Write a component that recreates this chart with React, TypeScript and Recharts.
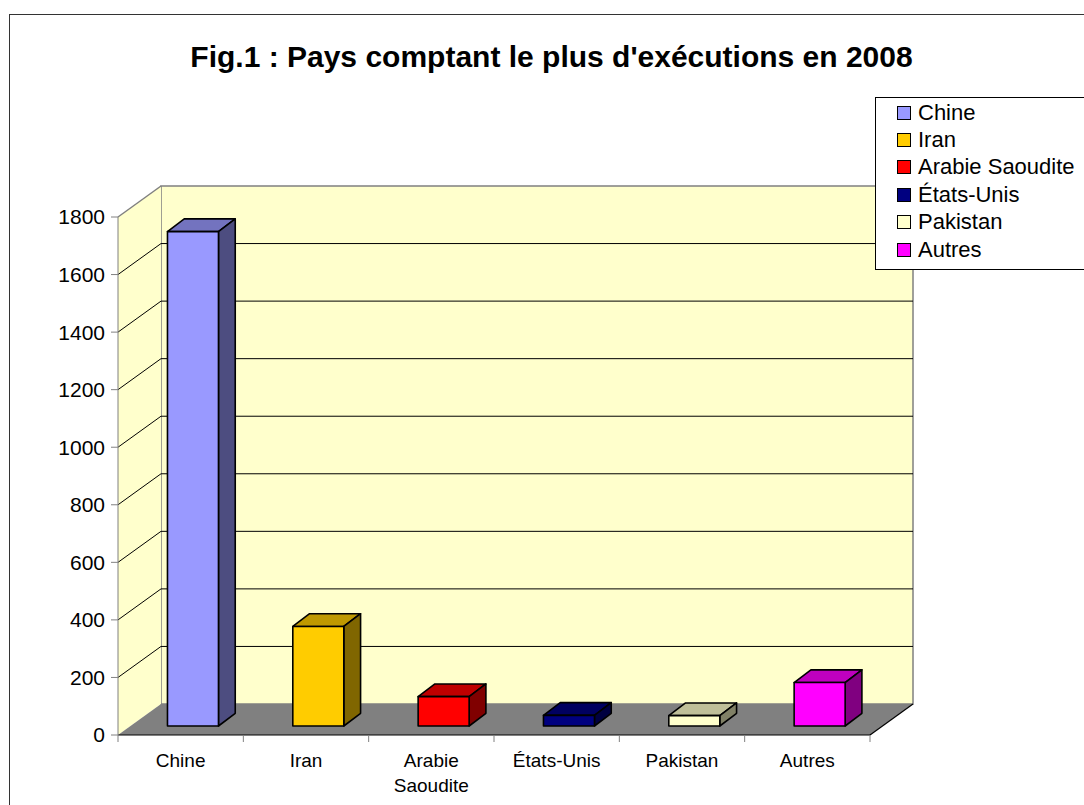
import React from 'react';
import { BarChart, Bar, XAxis, YAxis, CartesianGrid, ReferenceArea, Legend } from 'recharts';

const TITRE = "Fig.1 : Pays comptant le plus d'exécutions en 2008";
const PAYS = ['Chine', 'Iran', 'Arabie Saoudite', 'États-Unis', 'Pakistan', 'Autres'];
const EXECUTIONS = [1718, 346, 102, 37, 36, 151];
const COULEURS = ['#9999ff', '#ffcc00', '#ff0000', '#000080', '#ffffcc', '#ff00ff'];
const Y_TICKS = [0, 200, 400, 600, 800, 1000, 1200, 1400, 1600, 1800];

const FONT = '"Liberation Sans", Arial, sans-serif';

// decalage de la profondeur (effet 3D facon tableur)
const DX = 43;
const DY = 31;

const data = PAYS.map((pays, i) => ({ pays, executions: EXECUTIONS[i] }));

// assombrit une couleur hex (faces dessus / cote)
const shade = (hex: string, k: number) => {
  const n = parseInt(hex.slice(1), 16);
  const r = Math.round(((n >> 16) & 255) * k);
  const g = Math.round(((n >> 8) & 255) * k);
  const b = Math.round((n & 255) * k);
  return `rgb(${r},${g},${b})`;
};

const Murs = (props: any) => {
  const { x, y, width: w, height: h } = props;
  return (
    <g>
      <rect x={x + DX} y={y - DY} width={w} height={h} fill="#ffffcc" stroke="#808080" strokeWidth={1.5} />
      <polygon points={`${x},${y} ${x + DX},${y - DY} ${x + DX},${y + h - DY} ${x},${y + h}`} fill="#ffffcc" />
      <line x1={x} y1={y} x2={x + DX} y2={y - DY} stroke="#808080" strokeWidth={1.5} />
      <polygon
        points={`${x},${y + h} ${x + DX},${y + h - DY} ${x + w + DX},${y + h - DY} ${x + w},${y + h}`}
        fill="#808080"
      />
      <line x1={x + w + DX} y1={y + h - DY} x2={x + w} y2={y + h} stroke="#000" strokeWidth={1.2} />
    </g>
  );
};

const LigneGrille = (props: any) => {
  const { x1, y1, x2 } = props;
  return (
    <path
      key={`g-${y1}`}
      d={`M${x1},${y1}L${x1 + DX},${y1 - DY}L${x2 + DX},${y1 - DY}`}
      fill="none"
      stroke="#000"
      strokeWidth={1}
    />
  );
};

const Barre3D = (props: any) => {
  const { x, y, width, height, index } = props;
  if (height == null || width == null) return null;
  const c = COULEURS[index];
  const fx = x + DX * 0.29;
  const fy = y - DY * 0.29;
  const bx = DX * 0.39;
  const by = DY * 0.41;
  return (
    <g stroke="#000" strokeWidth={1.6} strokeLinejoin="round">
      <polygon
        points={`${fx},${fy} ${fx + bx},${fy - by} ${fx + width + bx},${fy - by} ${fx + width},${fy}`}
        fill={shade(c, 0.75)}
      />
      <polygon
        points={`${fx + width},${fy} ${fx + width + bx},${fy - by} ${fx + width + bx},${fy + height - by} ${fx + width},${fy + height}`}
        fill={shade(c, 0.5)}
      />
      <rect x={fx} y={fy} width={width} height={height} fill={c} />
    </g>
  );
};

const TickPays = (props: any) => {
  const { x, y, payload, index } = props;
  const half = payload && payload.offset ? payload.offset : 752 / PAYS.length / 2;
  const lignes = String(payload.value).split(' ');
  return (
    <g>
      <line x1={x - half} y1={y} x2={x - half} y2={y + 7} stroke="#808080" />
      {index === PAYS.length - 1 && <line x1={x + half} y1={y} x2={x + half} y2={y + 7} stroke="#808080" />}
      <text x={x} y={y + 32} textAnchor="middle" fontSize={19} fill="#000" fontFamily={FONT}>
        {lignes.map((l, i) => (
          <tspan key={l} x={x} dy={i === 0 ? 0 : 25}>
            {l}
          </tspan>
        ))}
      </text>
    </g>
  );
};

const Legende = () => (
  <div
    style={{
      width: 220,
      height: 173,
      border: '1px solid #000',
      background: '#fff',
      boxSizing: 'border-box',
      paddingTop: 1,
      fontFamily: FONT,
      fontSize: 22,
      color: '#000',
    }}
  >
    {PAYS.map((p, i) => (
      <div key={p} style={{ height: 27.4, display: 'flex', alignItems: 'center', paddingLeft: 21, whiteSpace: 'nowrap' }}>
        <span
          style={{
            display: 'inline-block',
            width: 12,
            height: 12,
            border: '1px solid #000',
            background: COULEURS[i],
            marginRight: 7,
          }}
        />
        {p}
      </div>
    ))}
  </div>
);

export default function App() {
  return (
    <div style={{ position: 'fixed', left: 0, top: 0, width: 1084, height: 805, overflow: 'hidden', background: '#fff' }}>
      <div style={{ position: 'absolute', left: 9, top: 14, width: 1200, height: 900, border: '1px solid #333' }} />
      <div
        style={{
          position: 'absolute',
          left: 0,
          width: 1103,
          top: 42,
          textAlign: 'center',
          fontFamily: FONT,
          fontWeight: 'bold',
          fontSize: 30,
          lineHeight: '30px',
          color: '#000',
          whiteSpace: 'nowrap',
        }}
      >
        {TITRE}
      </div>
      <div style={{ position: 'absolute', left: 0, top: 0 }}>
        <BarChart width={1084} height={805} data={data} margin={{ top: 217, right: 214, left: 58, bottom: 40 }}>
          <ReferenceArea y1={0} y2={1800} ifOverflow="visible" shape={Murs} zIndex={100} />
          <CartesianGrid
            vertical={false}
            horizontal={LigneGrille}
            horizontalValues={Y_TICKS.slice(1, -1)}
            zIndex={150}
          />
          <XAxis
            dataKey="pays"
            height={30}
            interval={0}
            tickSize={0}
            tickMargin={0}
            tickLine={false}
            axisLine={{ stroke: '#000', strokeWidth: 1.2 }}
            tick={<TickPays />}
          />
          <YAxis
            domain={[0, 1800]}
            ticks={Y_TICKS}
            interval={0}
            width={60}
            tickSize={7}
            tickMargin={6}
            axisLine={{ stroke: '#808080' }}
            tickLine={{ stroke: '#808080' }}
            tick={{ fill: '#000', fontSize: 21, fontFamily: FONT }}
          />
          <Bar dataKey="executions" barSize={51} shape={Barre3D} isAnimationActive={false} />
          <Legend
            layout="vertical"
            align="center"
            verticalAlign="middle"
            content={<Legende />}
            wrapperStyle={{ left: 875, top: 97, width: 220 }}
          />
        </BarChart>
      </div>
    </div>
  );
}
